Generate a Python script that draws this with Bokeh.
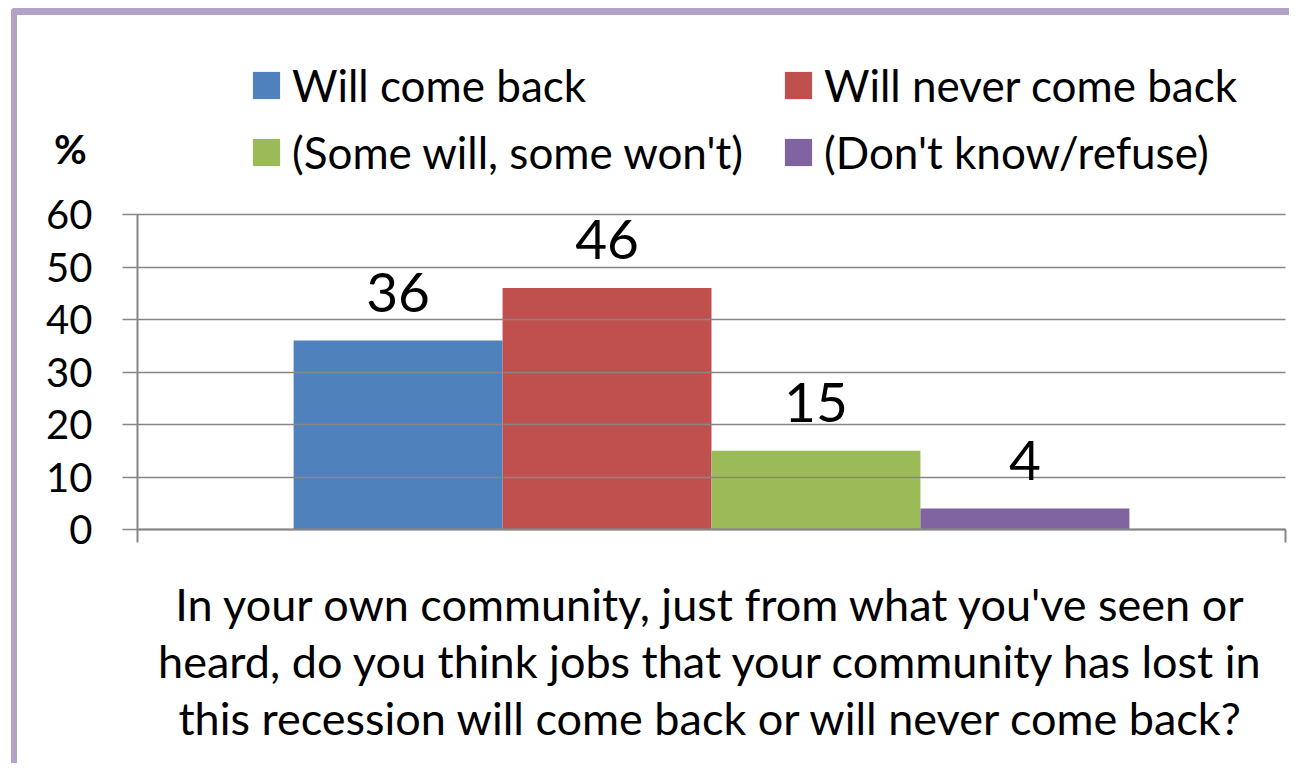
from bokeh.plotting import figure
from bokeh.models import (Range1d, FixedTicker, ColumnDataSource,
                          LabelSet, Label, Legend, LegendItem)
from bokeh.transform import dodge
from bokeh.core.properties import value
from bokeh.embed import file_html
from bokeh.resources import INLINE

# ---- data ----
categories = ["Will come back", "Will never come back", "(Some will, some won't)", "(Don't know/refuse)"]
values = [36, 46, 15, 4]
colors = ["#4F81BD", "#C0504D", "#9BBB59", "#8064A2"]
y_ticks = [0, 10, 20, 30, 40, 50, 60]
group = ["Q"]
question = [
    "In your own community, just from what you've seen or",
    "heard, do you think jobs that your community has lost in",
    "this recession will come back or will never come back?",
]

FONT = "Lato"
GRAY = "#868686"

# ---- layout (canvas pixels) ----
W, H = 1278, 755
PLOT_L, PLOT_R = 120, 1268      # pixel columns of the plot-area edges
PLOT_T, PLOT_B = 199, 514       # pixel rows of y=60 and y=0
YMAX = 60
px_x = (PLOT_R - PLOT_L) / len(group)
px_y = (PLOT_B - PLOT_T) / YMAX

group_pos = [k + 0.5 for k in range(len(group))]

p = figure(width=W, height=H,
           x_range=Range1d(-PLOT_L / px_x, (W - PLOT_L) / px_x),
           y_range=Range1d(-(H - PLOT_B) / px_y, PLOT_B / px_y),
           output_backend="svg", toolbar_location=None,
           min_border=0, min_border_left=0, min_border_right=0,
           min_border_top=0, min_border_bottom=0)
p.styles = {"margin-left": "11px", "margin-top": "8px",
            "border-left": "6px solid #B3A2C7",
            "border-top": "7px solid #B3A2C7", "border-top-left-radius": "4px"}
p.outline_line_color = None
p.background_fill_color = "white"
p.border_fill_color = "white"
p.xgrid.visible = False
p.ygrid.visible = False

# x axis: line along y=0, ticks only at the plot-area edges
p.xaxis.fixed_location = 0
p.xaxis.bounds = (0, len(group))
p.xaxis.ticker = FixedTicker(ticks=[0, len(group)])
p.xaxis.major_label_overrides = {0: "", len(group): ""}
p.xaxis.major_tick_out = 13
p.xaxis.major_tick_in = 0
p.xaxis.minor_tick_line_color = None
p.xaxis.axis_line_color = GRAY
p.xaxis.axis_line_width = 2
p.xaxis.major_tick_line_color = GRAY
p.xaxis.major_tick_line_width = 2

# y axis: ticks reach across the plot area (gridlines)
p.yaxis.fixed_location = 0
p.yaxis.bounds = (0, YMAX)
p.yaxis.ticker = FixedTicker(ticks=y_ticks)
p.yaxis.axis_line_color = GRAY
p.yaxis.axis_line_width = 2
p.yaxis.major_tick_line_color = GRAY
p.yaxis.major_tick_line_width = 1.5
p.yaxis.major_tick_out = 15
p.yaxis.major_tick_in = PLOT_R - PLOT_L
p.yaxis.minor_tick_line_color = None
p.yaxis.major_label_standoff = 30
p.yaxis.major_label_text_font = FONT
p.yaxis.major_label_text_font_size = "40px"
p.yaxis.major_label_text_color = "black"

w = 0.182
legend_pos = [(232, 659), (764, 659), (232, 592), (764, 592)]
for i, (cat, v, c) in enumerate(zip(categories, values, colors)):
    src = ColumnDataSource(dict(x=group_pos, value=[v], label=[str(v)]))
    xs = dodge("x", (i - 1.5) * w)
    r = p.vbar(x=xs, top="value", width=w, source=src, fill_color=c, line_color=None)
    p.add_layout(LabelSet(x=xs, y="value", text="label", source=src,
                          text_align="center", text_baseline="alphabetic",
                          y_offset=29, text_font=value(FONT), text_font_size="55px",
                          text_color="black"))
    leg = Legend(items=[LegendItem(label=cat, renderers=[r])], location=legend_pos[i],
                 padding=0, margin=0, border_line_color=None, background_fill_alpha=0,
                 glyph_width=34, glyph_height=34, label_standoff=9,
                 label_text_font=FONT, label_text_font_size="44px",
                 label_text_color="black")
    p.add_layout(leg)

p.add_layout(Label(x=-67 / px_x, y=(PLOT_B - 133) / px_y, text="%",
                   text_align="center", text_baseline="middle",
                   text_font=FONT, text_font_size="40px",
                   text_font_style="bold", text_color="black"))

for k, line in enumerate(question):
    p.add_layout(Label(x=0.5, y=-(74 + 57 * k) / px_y, text=line,
                       text_align="center", text_baseline="middle",
                       text_font=FONT, text_font_size="45px",
                       text_color="black"))

open("out.html", "w").write(file_html(p, INLINE))
